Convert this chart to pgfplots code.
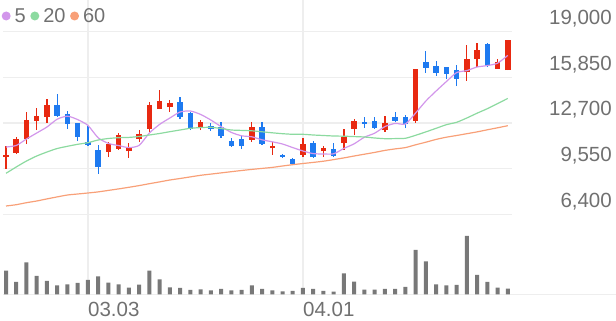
\documentclass[border=0pt]{standalone}
\usepackage{pgfplots}
\usepackage{pgfplotstable}
\pgfplotsset{compat=1.18}
\usepackage{fontspec}
\setmainfont{Liberation Sans}
\definecolor{upc}{RGB}{232,41,17}
\definecolor{dnc}{RGB}{30,122,240}
\definecolor{mafive}{RGB}{210,150,235}
\definecolor{matwenty}{RGB}{140,218,160}
\definecolor{masixty}{RGB}{248,160,120}
\definecolor{gridc}{RGB}{238,238,238}
\definecolor{txt}{RGB}{112,112,112}
\definecolor{volc}{RGB}{120,120,120}

\pgfplotstableread{
i O H L C
0 10350 11100 9550 10500
1 10650 11750 10550 11600
2 11600 13450 11250 12900
3 12850 13750 12200 13200
4 13100 14350 12700 13950
10 10700 11400 10350 11250
11 10900 12000 10850 11850
12 10750 11300 10300 11050
13 11600 12200 11400 11950
14 12300 14150 12100 13950
15 13650 15000 13650 14200
16 13800 14300 13450 14100
19 12400 12900 12200 12750
24 11550 12750 11400 12400
26 10950 11400 10500 11100
29 10500 11650 10350 11250
31 10750 11100 10350 10950
33 11300 12300 10850 11750
34 12300 12950 11850 12850
37 12200 13200 12100 12700
40 12850 16450 12700 16450
45 16200 18100 15600 17100
46 17100 18200 16550 17750
48 16450 17100 16450 16900
49 16350 18450 16350 18450
}\upcandles

\pgfplotstableread{
i O H L C
5 13950 14700 13100 13200
6 13300 13550 12300 12650
7 12700 12700 11450 11750
8 11400 12500 11100 11200
9 10850 11200 9200 9650
17 14150 14500 12950 13100
18 13400 13450 12200 12300
20 12500 12700 12150 12300
21 12400 12750 11650 11800
22 11450 11650 11050 11100
23 11600 11800 10900 11100
25 12400 12750 11200 11250
27 10500 10550 10300 10350
28 10200 10300 9800 9850
30 11300 11450 10300 10350
32 10900 11300 10350 10400
35 12750 13100 12350 12650
36 12850 13100 12300 12350
38 13100 13450 12750 12850
39 13100 13250 12350 12650
41 16900 17650 16150 16500
42 16650 17000 15950 16150
43 16550 16550 15750 16100
44 16350 16700 15250 15750
47 18150 18200 16550 16650
}\dncandles

\pgfplotstableread{
i ma5 ma20 ma60
0 11044 9229 6973
1 11148 9664 7063
2 11596 10078 7201
3 12010 10423 7318
4 12424 10699 7463
5 12962 10940 7601
6 13169 11092 7732
7 12935 11230 7801
8 12534 11341 7870
9 11679 11527 7946
10 11292 11631 8049
11 11141 11686 8153
12 11003 11706 8264
13 11154 11768 8380
14 12010 11872 8512
15 12603 11976 8636
16 13045 12100 8767
17 13459 12217 8871
18 13528 12334 8981
19 13293 12383 9091
20 12907 12403 9174
21 12452 12321 9257
22 12052 12217 9340
23 11817 12189 9422
24 11748 12162 9498
25 11541 12093 9567
26 11403 12024 9636
27 11251 11962 9733
28 11003 11920 9823
29 10768 11920 9905
30 10589 11872 9981
31 10561 11837 10064
32 10575 11803 10175
33 10947 11789 10292
34 11265 11762 10423
35 11720 11734 10547
36 11996 11665 10671
37 12452 11617 10809
38 12672 11624 10913
39 12631 11645 11003
40 13390 11851 11196
41 14218 12086 11375
42 14908 12334 11568
43 15557 12583 11720
44 16178 12748 11837
45 16316 13045 11962
46 16564 13376 12086
47 16661 13687 12231
48 16826 14039 12369
49 17364 14397 12514
}\matable

\pgfplotstableread{
i v
0 237
1 125
2 321
3 186
4 135
5 91
6 101
7 115
8 145
9 179
10 118
11 101
12 68
13 98
14 237
15 149
16 71
17 64
18 44
19 51
20 41
21 54
22 41
23 44
24 91
25 54
26 41
27 30
28 34
29 64
30 54
31 34
32 27
33 210
34 128
35 47
36 47
37 54
38 54
39 74
40 446
41 331
42 101
43 91
44 95
45 585
46 196
47 125
48 68
49 57
}\voltable

\begin{document}
\begin{tikzpicture}
\path[use as bounding box] (0,0) rectangle (616pt,321pt);
\draw[gridc, line width=1.3pt] (3pt,26.6pt) -- (616pt,26.6pt);
\begin{axis}[
  at={(3pt,96pt)}, anchor=south west,
  width=509pt, height=225pt, scale only axis,
  xmin=-0.293, xmax=49.41, ymin=5662, ymax=21187,
  axis line style={draw=none},
  tick style={draw=none},
  scaled y ticks=false, scaled x ticks=false,
  xtick={8,29}, xticklabels={},
  ytick={6400,9550,12700,15850,19000},
  yticklabels={{6,400},{9,550},{12,700},{15,850},{19,000}},
  yticklabel pos=right,
  yticklabel style={anchor=base east, xshift=100pt, yshift=7pt, inner sep=0pt,
    font=\fontsize{20.5}{24}\selectfont, text=txt},
  grid=major, grid style={gridc, line width=1.3pt},
  legend style={at={(0,1)}, anchor=west, xshift=-1.5pt, yshift=-16pt,
    draw=none, fill=none, inner sep=0pt, legend columns=-1,
    font=\fontsize{20}{22}\selectfont, text=txt,
    nodes={inner sep=0pt},
    /tikz/every even column/.append style={column sep=4.5pt}},
  legend image code/.code={\fill[draw=none] (4.5pt,0pt) circle (4.5pt); \path[draw=none, fill=none] (0pt,0pt) rectangle (13pt,0.1pt);},
]
% wicks
\addplot[draw=none, mark=none, forget plot,
  error bars/.cd, y dir=plus, y explicit, error mark=none,
  error bar style={draw=upc, line width=1.2pt}]
  table[x=i, y=L, y error plus expr=\thisrow{H}-\thisrow{L}] {\upcandles};
\addplot[draw=none, mark=none, forget plot,
  error bars/.cd, y dir=plus, y explicit, error mark=none,
  error bar style={draw=dnc, line width=1.2pt}]
  table[x=i, y=L, y error plus expr=\thisrow{H}-\thisrow{L}] {\dncandles};
% bodies
\addplot[draw=none, mark=none, forget plot,
  error bars/.cd, y dir=plus, y explicit, error mark=none,
  error bar style={draw=upc, line width=5.5pt}]
  table[x=i, y=O, y error plus expr=\thisrow{C}-\thisrow{O}] {\upcandles};
\addplot[draw=none, mark=none, forget plot,
  error bars/.cd, y dir=plus, y explicit, error mark=none,
  error bar style={draw=dnc, line width=5.5pt}]
  table[x=i, y=C, y error plus expr=\thisrow{O}-\thisrow{C}] {\dncandles};
% moving averages
\addplot[color=mafive, line width=1.2pt, smooth, tension=0.4, mark=none] table[x=i, y=ma5] {\matable};
\addlegendentry{5}
\addplot[color=matwenty, line width=1.2pt, smooth, tension=0.4, mark=none] table[x=i, y=ma20] {\matable};
\addlegendentry{20}
\addplot[color=masixty, line width=1.2pt, smooth, tension=0.4, mark=none] table[x=i, y=ma60] {\matable};
\addlegendentry{60}
\end{axis}
\begin{axis}[
  at={(3pt,26.6pt)}, anchor=south west,
  width=509pt, height=69.4pt, scale only axis,
  xmin=-0.293, xmax=49.41, ymin=0, ymax=694,
  axis line style={draw=none},
  tick style={draw=none},
  ytick=\empty,
  xtick={8,29}, xticklabels={03.03,04.01},
  xmajorgrids, grid style={gridc, line width=1.3pt},
  xticklabel style={anchor=base west, yshift=-22.6pt, inner sep=0pt,
    font=\fontsize{20.5}{24}\selectfont, text=txt},
]
\addplot[ybar, bar width=4pt, bar shift=0pt, fill=volc, draw=none] table[x=i, y=v] {\voltable};
\end{axis}
\end{tikzpicture}
\end{document}
